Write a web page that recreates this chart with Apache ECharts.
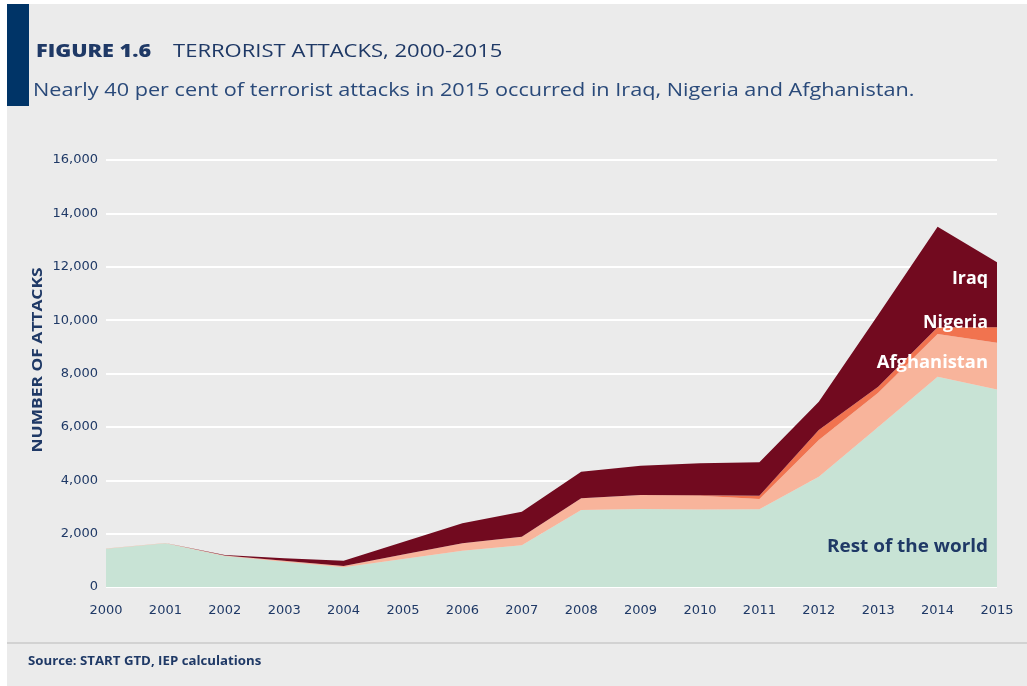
<!DOCTYPE html>
<html>
<head>
<meta charset="utf-8">
<script src="https://cdn.jsdelivr.net/npm/echarts@6/dist/echarts.min.js"></script>
<style>
html,body{margin:0;padding:0;background:#ffffff;}
#chart{width:1027px;height:686px;}
</style>
</head>
<body>
<div id="chart"></div>
<script>
const years = ['2000','2001','2002','2003','2004','2005','2006','2007','2008','2009','2010','2011','2012','2013','2014','2015'];
const restOfWorld = [1430,1640,1160,950,740,1045,1360,1560,2885,2920,2900,2910,4130,6000,7880,7400];
const afghanistan = [10,10,20,35,45,175,276,325,437,527,522,390,1378,1280,1600,1755];
const nigeria = [0,0,0,0,0,0,0,0,0,0,20,120,375,225,250,575];
const iraq = [0,0,20,90,200,470,750,937,998,1098,1193,1252,1060,2695,3770,2435];
const yTicks = [0,2000,4000,6000,8000,10000,12000,14000,16000];

const navy = '#1f3966';
const font = 'Open Sans';
const axisFont = 'DejaVu Sans';
const chart = echarts.init(document.getElementById('chart'));

function areaSeries(name, data, color) {
  return {
    name: name, type: 'line', stack: 'total', data: data,
    showSymbol: false, symbol: 'none',
    lineStyle: {width: 0}, areaStyle: {color: color, opacity: 1},
    itemStyle: {color: color}, emphasis: {disabled: true}, silent: true
  };
}

function label(text, x, y, size, color, sx, align) {
  return {type: 'text', z: 20, x: x, y: y, scaleX: sx, style: {
    text: text, fontFamily: font, fontSize: size, fontWeight: 700, fill: color,
    align: align || 'right', verticalAlign: 'middle'
  }};
}

chart.setOption({
  backgroundColor: '#ffffff',
  animation: false,
  textStyle: {fontFamily: font},
  graphic: [
    {type: 'rect', z: -10, shape: {x: 7, y: 4, width: 1020, height: 682}, style: {fill: '#ebebeb'}},
    {type: 'rect', z: 10, shape: {x: 7, y: 4, width: 22, height: 102}, style: {fill: '#003467'}},
    {type: 'text', z: 10, x: 36, y: 52, scaleX: 1.2, style: {
      text: 'FIGURE 1.6', fontFamily: font, fontSize: 18, fontWeight: 800, fill: navy, verticalAlign: 'middle'
    }},
    {type: 'text', z: 10, x: 173, y: 52, scaleX: 1.16, style: {
      text: 'TERRORIST ATTACKS, 2000-2015', fontFamily: font, fontSize: 19, fontWeight: 400, fill: navy, verticalAlign: 'middle'
    }},
    {type: 'text', z: 10, x: 33, y: 91, scaleX: 1.14, style: {
      text: 'Nearly 40 per cent of terrorist attacks in 2015 occurred in Iraq, Nigeria and Afghanistan.',
      fontFamily: font, fontSize: 19, fill: '#2a4a7a', verticalAlign: 'middle'
    }},
    {type: 'text', z: 10, x: 38, y: 360, rotation: Math.PI / 2, scaleX: 1.24, style: {
      text: 'NUMBER OF ATTACKS', fontFamily: font, fontSize: 14, fontWeight: 700, fill: navy,
      align: 'center', verticalAlign: 'middle'
    }},
    {type: 'rect', z: 10, shape: {x: 7, y: 642, width: 1020, height: 2}, style: {fill: '#d2d2d2'}},
    {type: 'text', z: 10, x: 28, y: 662, scaleX: 1.15, style: {
      text: 'Source: START GTD, IEP calculations', fontFamily: font, fontSize: 11.5, fontWeight: 700, fill: navy,
      verticalAlign: 'middle'
    }},
    label('Iraq', 988, 279, 17, '#ffffff', 1.05),
    label('Nigeria', 988, 323, 17, '#ffffff', 1.05),
    label('Afghanistan', 988, 363, 17, '#ffffff', 1.08),
    label('Rest of the world', 988, 547, 18, navy, 1.05)
  ],
  grid: {left: 106, right: 30, top: 160, bottom: 99, containLabel: false},
  xAxis: {
    type: 'category', data: years, boundaryGap: false,
    axisLine: {show: false}, axisTick: {show: false},
    axisLabel: {color: navy, fontSize: 13, margin: 17, fontFamily: axisFont}
  },
  yAxis: {
    type: 'value', min: yTicks[0], max: yTicks[yTicks.length - 1], interval: 2000,
    axisLine: {show: false}, axisTick: {show: false},
    splitLine: {show: true, lineStyle: {color: '#ffffff', width: 2}},
    axisLabel: {color: navy, fontSize: 13, margin: 8, fontFamily: axisFont,
      formatter: v => v.toLocaleString('en-US')}
  },
  series: [
    areaSeries('Rest of the world', restOfWorld, '#c8e3d5'),
    areaSeries('Afghanistan', afghanistan, '#f8b49b'),
    areaSeries('Nigeria', nigeria, '#f1734f'),
    areaSeries('Iraq', iraq, '#720a1f')
  ]
});
</script>
</body>
</html>
